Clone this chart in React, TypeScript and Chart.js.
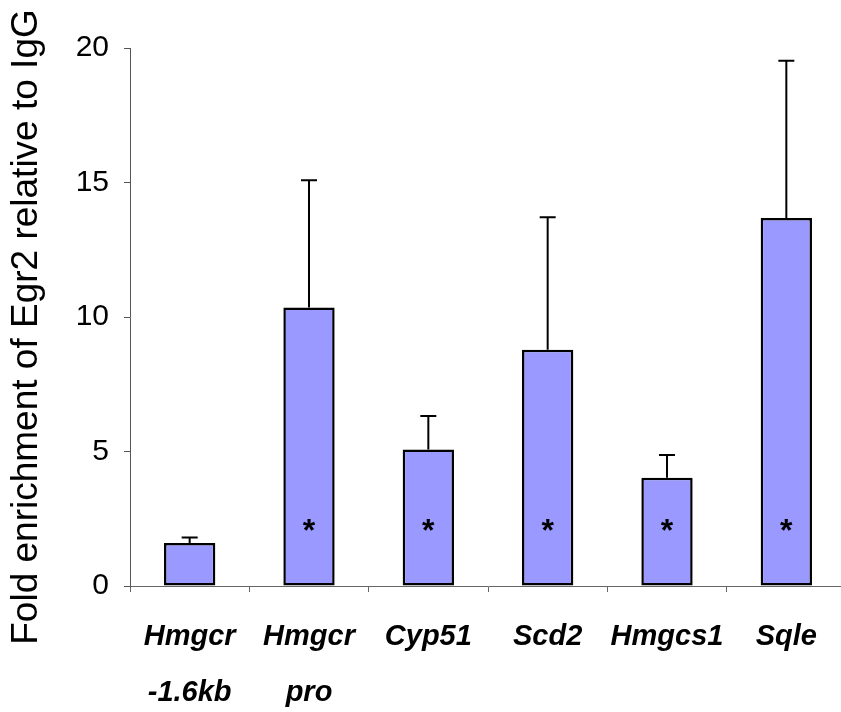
import React, { useEffect, useRef } from "react";
import { Chart, registerables } from "chart.js";

Chart.register(...registerables);

const categories: string[][] = [
  ["Hmgcr", "-1.6kb"],
  ["Hmgcr", "pro"],
  ["Cyp51"],
  ["Scd2"],
  ["Hmgcs1"],
  ["Sqle"],
];
const foldEnrichment = [1.6, 10.35, 5.07, 8.78, 4.02, 13.68];
const errorUpper = [0.2, 4.73, 1.25, 4.93, 0.85, 5.85];
const significant = [false, true, true, true, true, true];
const asteriskLevel = 1.9;
const yTicks = { min: 0, max: 20, step: 5 };
const yTitle = "Fold enrichment of Egr2 relative to IgG";

const FONT = 'Arial, "Liberation Sans", Helvetica, sans-serif';

const errorBarPlugin = {
  id: "errorBars",
  afterDatasetsDraw(chart: any) {
    const ctx = chart.ctx;
    const meta = chart.getDatasetMeta(0);
    const y = chart.scales.y;
    ctx.save();
    ctx.strokeStyle = "#000";
    ctx.lineWidth = 2;
    meta.data.forEach((bar: any, i: number) => {
      const top = y.getPixelForValue(foldEnrichment[i]);
      const errTop = y.getPixelForValue(foldEnrichment[i] + errorUpper[i]);
      ctx.beginPath();
      ctx.moveTo(bar.x, top);
      ctx.lineTo(bar.x, errTop);
      ctx.moveTo(bar.x - 8, errTop);
      ctx.lineTo(bar.x + 8, errTop);
      ctx.stroke();
      if (significant[i]) {
        ctx.fillStyle = "#000";
        ctx.font = `bold 32px ${FONT}`;
        ctx.textAlign = "center";
        const m = ctx.measureText("*");
        const cy = y.getPixelForValue(asteriskLevel);
        const h = m.actualBoundingBoxAscent - m.actualBoundingBoxDescent;
        ctx.textBaseline = "alphabetic";
        ctx.fillText("*", bar.x, cy + h / 2 + m.actualBoundingBoxDescent);
      }
    });
    ctx.restore();
  },
  afterDraw(chart: any) {
    const ctx = chart.ctx;
    ctx.save();
    ctx.translate(37, 327);
    ctx.rotate(-Math.PI / 2);
    ctx.fillStyle = "#000";
    ctx.font = `37px ${FONT}`;
    ctx.textAlign = "center";
    ctx.textBaseline = "alphabetic";
    ctx.fillText(yTitle, 0, 0);
    ctx.restore();
  },
};

export default function App() {
  const ref = useRef<HTMLCanvasElement>(null);
  useEffect(() => {
    if (!ref.current) return;
    const chart = new Chart(ref.current, {
      type: "bar",
      data: {
        labels: categories,
        datasets: [
          {
            data: foldEnrichment,
            backgroundColor: "#9999FF",
            borderColor: "#000",
            borderWidth: 2.5,
            borderSkipped: false,
            barPercentage: 0.43,
            categoryPercentage: 1,
          },
        ],
      },
      options: {
        animation: false,
        responsive: false,
        maintainAspectRatio: false,
        layout: { padding: { top: 48, left: 0, right: 0, bottom: 0 } },
        plugins: { legend: { display: false }, tooltip: { enabled: false } },
        scales: {
          x: {
            offset: true,
            grid: {
              offset: true,
              drawOnChartArea: false,
              drawTicks: true,
              tickLength: 6,
              color: "#666",
            },
            border: { color: "#666", width: 1 },
            ticks: {
              color: "#000",
              padding: 17,
              font: { family: FONT, size: 29, style: "italic", weight: "bold", lineHeight: 1.93 },
              maxRotation: 0,
              autoSkip: false,
            },
            afterFit(scale: any) {
              scale.height = 126;
            },
          },
          y: {
            min: yTicks.min,
            max: yTicks.max,
            ticks: {
              stepSize: yTicks.step,
              color: "#000",
              padding: 15,
              font: { family: FONT, size: 30 },
            },
            grid: {
              drawOnChartArea: false,
              drawTicks: true,
              tickLength: 6,
              color: "#555",
            },
            border: { color: "#555", width: 1 },
            afterFit(scale: any) {
              scale.width = 130;
            },
          },
        },
      },
      plugins: [errorBarPlugin],
    });
    return () => chart.destroy();
  }, []);
  return (
    <div
      style={{
        position: "fixed",
        left: 0,
        top: 0,
        width: 841,
        height: 712,
        overflow: "hidden",
        background: "#fff",
      }}
    >
      <canvas ref={ref} width={846} height={712} style={{ display: "block" }} />
    </div>
  );
}
